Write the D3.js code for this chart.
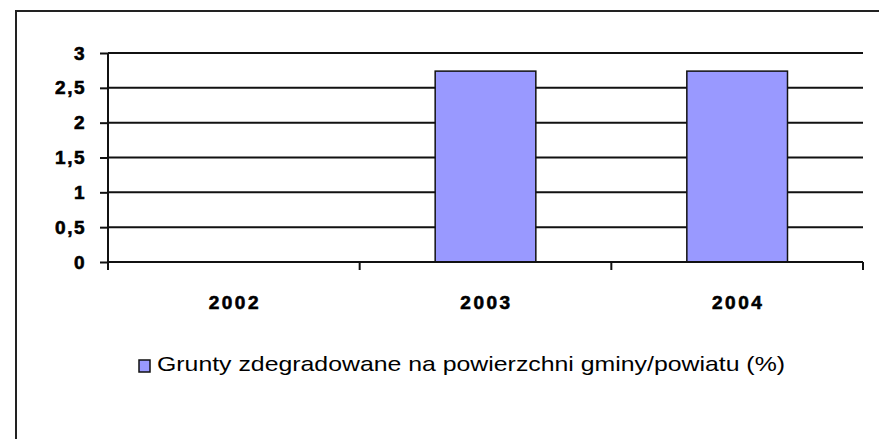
<!DOCTYPE html>
<html>
<head>
<meta charset="utf-8">
<script src="https://cdn.jsdelivr.net/npm/d3@7"></script>
<style>
  body { margin: 0; background: #fff; }
  svg { display: block; }
</style>
</head>
<body>
<div id="chart"></div>
<script>
// data
const years = ["2002", "2003", "2004"];
const values = [0, 2.74, 2.74];
const yTicks = [0, 0.5, 1, 1.5, 2, 2.5, 3];
const seriesName = "Grunty zdegradowane na powierzchni gminy/powiatu (%)";

const width = 879, height = 439;
const svg = d3.select("#chart").append("svg")
  .attr("width", width).attr("height", height);

// outer frame (only top and left are visible)
svg.append("path")
  .attr("d", `M16,${height} L16,11 L${width},11`)
  .attr("fill", "none").attr("stroke", "#222").attr("stroke-width", 2);

const plotL = 108, plotR = 863, plotT = 53, plotB = 262;

const x = d3.scaleBand().domain(years).range([plotL, plotR])
  .paddingInner(0.6).paddingOuter(0.3);
const y = d3.scaleLinear().domain([0, 3]).range([plotB, plotT]);

// gridlines
svg.append("g")
  .selectAll("line")
  .data(yTicks.filter(d => d > 0))
  .enter().append("line")
  .attr("x1", plotL).attr("x2", plotR)
  .attr("y1", d => y(d)).attr("y2", d => y(d))
  .attr("stroke", "#111").attr("stroke-width", 2);

// bars
svg.append("g")
  .selectAll("rect")
  .data(years.map((k, i) => ({ k, v: values[i] })).filter(d => d.v > 0))
  .enter().append("rect")
  .attr("x", d => x(d.k))
  .attr("y", d => y(d.v))
  .attr("width", x.bandwidth())
  .attr("height", d => plotB - y(d.v))
  .attr("fill", "#9999ff")
  .attr("stroke", "#111").attr("stroke-width", 1.5);

// y axis
const yAxis = svg.append("g")
  .attr("transform", `translate(${plotL},0)`)
  .call(d3.axisLeft(y).tickValues(yTicks).tickSize(8).tickPadding(14)
    .tickFormat(d => String(d).replace(".", ",")));
yAxis.select(".domain").attr("stroke", "#111").attr("stroke-width", 2)
  .attr("d", `M0,${plotT}V${plotB}`);
yAxis.selectAll(".tick line").attr("stroke", "#111").attr("stroke-width", 2);
yAxis.selectAll("text")
  .attr("font-family", "Liberation Sans").attr("font-weight", "bold")
  .attr("font-size", 19).attr("letter-spacing", 1.5).attr("fill", "#000")
  .attr("stroke", "#000").attr("stroke-width", 0.6);

// x axis: category boundary ticks
const step = x.step();
const bounds = d3.range(years.length + 1).map(i => plotL + i * step);
svg.append("line")
  .attr("x1", plotL).attr("x2", plotR).attr("y1", plotB).attr("y2", plotB)
  .attr("stroke", "#111").attr("stroke-width", 2);
svg.append("g")
  .selectAll("line")
  .data(bounds)
  .enter().append("line")
  .attr("x1", d => d).attr("x2", d => d)
  .attr("y1", plotB).attr("y2", plotB + 8)
  .attr("stroke", "#111").attr("stroke-width", 2);

svg.append("g")
  .selectAll("text")
  .data(years)
  .enter().append("text")
  .attr("x", d => x(d) + x.bandwidth() / 2 + 1)
  .attr("y", 309)
  .attr("text-anchor", "middle")
  .attr("font-family", "Liberation Sans").attr("font-weight", "bold")
  .attr("font-size", 19).attr("letter-spacing", 2.5)
  .attr("stroke", "#000").attr("stroke-width", 0.6)
  .text(d => d);

// legend
svg.append("rect")
  .attr("x", 139).attr("y", 360).attr("width", 11).attr("height", 12)
  .attr("fill", "#9999ff").attr("stroke", "#111").attr("stroke-width", 1.5);
svg.append("text")
  .attr("x", 157).attr("y", 371)
  .attr("font-family", "Liberation Sans")
  .attr("font-size", 21)
  .attr("textLength", 628).attr("lengthAdjust", "spacingAndGlyphs")
  .text(seriesName);
</script>
</body>
</html>
